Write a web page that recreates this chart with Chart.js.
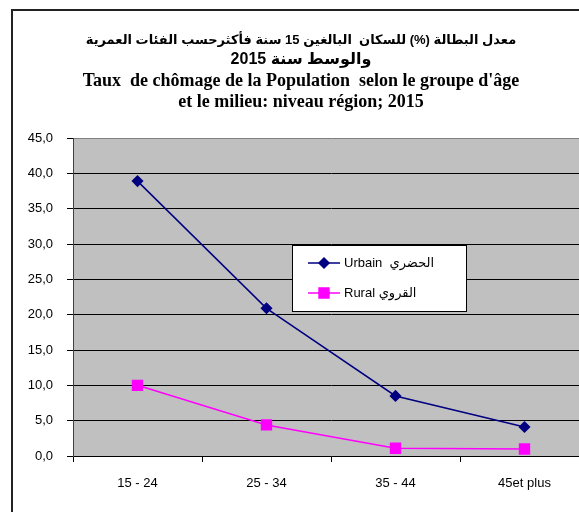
<!DOCTYPE html>
<html>
<head>
<meta charset="utf-8">
<script src="https://cdn.jsdelivr.net/npm/chart.js@4"></script>
<style>
  html, body { margin: 0; padding: 0; background: #fff; overflow: hidden; }
  #wrap { position: absolute; left: 0; top: 0; width: 600px; height: 512px; }
</style>
</head>
<body>
<div id="wrap"><canvas id="chomageChart" width="600" height="512"></canvas></div>
<script>
// Age groups and unemployment rates (%) by area, 2015
const ageGroups = ['15 - 24', '25 - 34', '35 - 44', '45et plus'];
const urbainRates = [38.9, 20.9, 8.5, 4.1];
const ruralRates = [10.0, 4.4, 1.1, 1.0];
const yTicks = [0, 5, 10, 15, 20, 25, 30, 35, 40, 45];

const arabicTitle = [
    'معدل البطالة (%) للسكان  البالغين 15 سنة فأكثرحسب الفئات العمرية',
    'والوسط سنة 2015'
];
const frenchTitle = [
    "Taux  de chômage de la Population  selon le groupe d'âge",
    'et le milieu: niveau région; 2015'
];
const legendLabels = ['Urbain  الحضري', 'Rural القروي'];

const sansFont = 'Arial, "Liberation Sans", "DejaVu Sans", sans-serif';
const serifFont = '"Times New Roman", "Liberation Serif", serif';

// Frame around the chart and grey plot background
const framePlugin = {
    id: 'frame',
    beforeDraw(chart) {
        const ctx = chart.ctx;
        const a = chart.chartArea;
        ctx.save();
        ctx.fillStyle = '#fff';
        ctx.fillRect(0, 0, chart.width, chart.height);
        ctx.strokeStyle = '#222';
        ctx.lineWidth = 2;
        ctx.strokeRect(12, 10, 800, 700);
        ctx.fillStyle = '#c0c0c0';
        ctx.fillRect(a.left, a.top, a.right - a.left, a.bottom - a.top);
        ctx.restore();
    }
};

// Two-language title: Arabic lines in sans, French lines in serif
const titlePlugin = {
    id: 'bilingualTitle',
    afterDraw(chart) {
        const ctx = chart.ctx;
        const cx = 301;
        const lines = [
            { text: arabicTitle[0], font: 'bold 13px ' + sansFont, y: 44 },
            { text: arabicTitle[1], font: 'bold 16px ' + sansFont, y: 64 },
            { text: frenchTitle[0], font: 'bold 18px ' + serifFont, y: 86 },
            { text: frenchTitle[1], font: 'bold 18px ' + serifFont, y: 107 }
        ];
        ctx.save();
        ctx.fillStyle = '#000';
        ctx.textAlign = 'center';
        ctx.textBaseline = 'alphabetic';
        lines.forEach(l => {
            ctx.font = l.font;
            ctx.fillText(l.text, cx, l.y);
        });
        ctx.restore();
    }
};

// Boxed legend drawn inside the plot area
const boxLegendPlugin = {
    id: 'boxLegend',
    afterDraw(chart) {
        const ctx = chart.ctx;
        const a = chart.chartArea;
        const x = a.left + 219;
        const y = a.top + 107;
        const w = 174;
        const h = 66;
        ctx.save();
        ctx.fillStyle = '#fff';
        ctx.fillRect(x, y, w, h);
        ctx.strokeStyle = '#000';
        ctx.lineWidth = 1;
        ctx.strokeRect(x + 0.5, y + 0.5, w, h);

        chart.data.datasets.forEach((ds, i) => {
            const ly = y + 18 + i * 30;
            ctx.strokeStyle = ds.borderColor;
            ctx.lineWidth = 1.5;
            ctx.beginPath();
            ctx.moveTo(x + 16, ly);
            ctx.lineTo(x + 48, ly);
            ctx.stroke();
            ctx.fillStyle = ds.pointBackgroundColor;
            ctx.strokeStyle = ds.borderColor;
            Chart.helpers.drawPoint(ctx, {
                pointStyle: ds.pointStyle,
                radius: ds.pointRadius,
                borderWidth: 1
            }, x + 32, ly);
            ctx.fillStyle = '#000';
            ctx.font = '13px ' + sansFont;
            ctx.textBaseline = 'middle';
            ctx.textAlign = 'left';
            ctx.fillText(legendLabels[i], x + 52, ly);
        });
        ctx.restore();
    }
};

const ctx = document.getElementById('chomageChart').getContext('2d');
new Chart(ctx, {
    type: 'line',
    data: {
        labels: ageGroups,
        datasets: [{
            label: legendLabels[0],
            data: urbainRates,
            borderColor: '#000080',
            backgroundColor: '#000080',
            pointBackgroundColor: '#000080',
            pointBorderColor: '#000080',
            borderWidth: 1.5,
            pointStyle: 'rectRot',
            pointRadius: 5,
            pointHoverRadius: 5,
            tension: 0
        }, {
            label: legendLabels[1],
            data: ruralRates,
            borderColor: '#ff00ff',
            backgroundColor: '#ff00ff',
            pointBackgroundColor: '#ff00ff',
            pointBorderColor: '#ff00ff',
            borderWidth: 1.5,
            pointStyle: 'rect',
            pointRadius: 7,
            pointHoverRadius: 7,
            tension: 0
        }]
    },
    options: {
        responsive: false,
        animation: false,
        devicePixelRatio: 1,
        layout: { padding: { left: 0, right: 11, top: 138, bottom: 0 } },
        plugins: {
            legend: { display: false },
            tooltip: { enabled: false },
            title: { display: false }
        },
        scales: {
            x: {
                offset: true,
                grid: {
                    offset: true,
                    drawOnChartArea: false,
                    color: '#000',
                    tickLength: 6
                },
                border: { color: '#000', width: 1 },
                ticks: {
                    color: '#000',
                    padding: 14,
                    maxRotation: 0,
                    font: { family: sansFont, size: 13 }
                },
                afterFit(scale) { scale.height = 56; }
            },
            y: {
                min: 0,
                max: 45,
                afterBuildTicks(scale) {
                    scale.ticks = yTicks.map(v => ({ value: v }));
                },
                grid: {
                    color: c => (c.tick.value === 45 ? '#808080' : '#000'),
                    tickColor: '#000',
                    tickLength: 6
                },
                border: { color: '#404040', width: 1 },
                ticks: {
                    color: '#000',
                    padding: 14,
                    font: { family: sansFont, size: 13 },
                    callback: v => v.toFixed(1).replace('.', ',')
                },
                afterFit(scale) { scale.width = 73; }
            }
        }
    },
    plugins: [framePlugin, titlePlugin, boxLegendPlugin]
});
</script>
</body>
</html>
